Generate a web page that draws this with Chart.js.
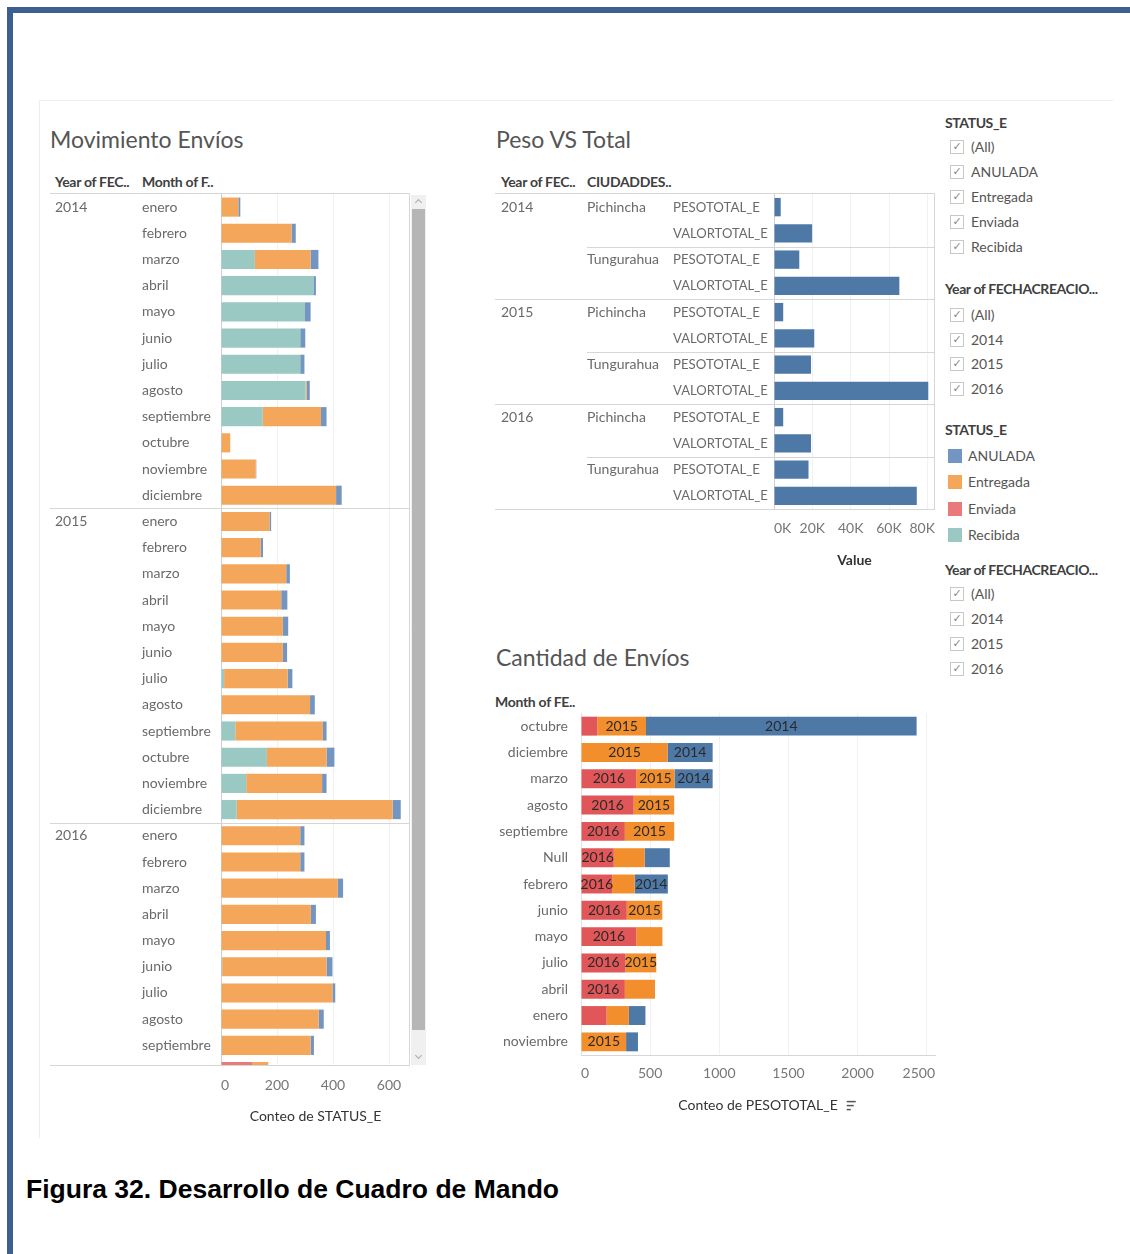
<!DOCTYPE html>
<html>
<head>
<meta charset="utf-8">
<script src="https://cdn.jsdelivr.net/npm/chart.js@4.4.1/dist/chart.umd.min.js"></script>
<style>
body { margin:0; width:1130px; height:1254px; position:relative; background:#fff; font-family:Lato, "Open Sans", sans-serif; overflow:hidden; }
.abs { position:absolute; white-space:nowrap; }
.frame { position:absolute; background:#3b5f8e; }
.pane-line { position:absolute; background:#ededed; }
.sheet-title { font-size:23px; line-height:30px; color:#555; }
.hdr { font-size:14px; line-height:18px; font-weight:bold; color:#404040; letter-spacing:-0.3px; }
.lg { font-size:14px; line-height:18px; color:#555; }
.lg-hdr { font-size:14px; line-height:18px; font-weight:bold; color:#404040; letter-spacing:-0.4px; }
.chk { position:absolute; width:12px; height:12px; border:1px solid #c8c8c8; font:11px "DejaVu Sans"; color:#888; line-height:12px; text-align:center; }
.sw { position:absolute; width:14px; height:14px; }
canvas { position:absolute; }
.caption { font-family:"Liberation Sans", Arial, sans-serif; font-weight:bold; font-size:26.5px; line-height:30px; color:#000; }
</style>
</head>
<body>
<div class="frame" style="left:7px;top:7px;width:1123px;height:6px"></div>
<div class="frame" style="left:7px;top:7px;width:6px;height:1247px"></div>
<div class="pane-line" style="left:40px;top:100px;width:1073px;height:1px"></div>
<div class="pane-line" style="left:39px;top:100px;width:1px;height:1038px"></div>

<div class="abs sheet-title" style="left:50px;top:124px">Movimiento Envíos</div>
<div class="abs sheet-title" style="left:496px;top:124px">Peso VS Total</div>
<div class="abs sheet-title" style="left:496px;top:642px">Cantidad de Envíos</div>

<div class="abs hdr" style="left:55px;top:173px">Year of FEC..</div>
<div class="abs hdr" style="left:142px;top:173px">Month of F..</div>
<div class="abs hdr" style="left:501px;top:173px">Year of FEC..</div>
<div class="abs hdr" style="left:587px;top:173px">CIUDADDES..</div>
<div class="abs hdr" style="left:495px;top:693px">Month of FE..</div>

<!-- scrollbar of the left view -->
<div class="abs" style="left:411px;top:195px;width:15px;height:870px;background:#f0f0f0"></div>
<div class="abs" style="left:412px;top:209px;width:13px;height:821px;background:#b6b6b6"></div>
<div class="abs" style="left:416px;top:200px;width:4px;height:4px;border-left:1px solid #aaa;border-top:1px solid #aaa;transform:rotate(45deg)"></div>
<div class="abs" style="left:416px;top:1053px;width:4px;height:4px;border-right:1px solid #aaa;border-bottom:1px solid #aaa;transform:rotate(45deg)"></div>

<canvas id="movimiento" width="362" height="965" style="left:50px;top:170px"></canvas>
<canvas id="peso" width="442" height="410" style="left:495px;top:170px"></canvas>
<canvas id="cantidad" width="447" height="413" style="left:490px;top:712px"></canvas>

<div id="legend"></div>

<div class="abs caption" style="left:26px;top:1174px">Figura 32. Desarrollo de Cuadro de Mando</div>

<script>
// ---- Movimiento Envíos: conteo de STATUS_E por año y mes ----
const meses = ['enero','febrero','marzo','abril','mayo','junio','julio','agosto','septiembre','octubre','noviembre','diciembre'];
const movYears = ['2014', '2015', '2016'];

const enviada2014   = [0, 0, 0, 0, 0, 0, 0, 0, 0, 0, 0, 0];
const recibida2014  = [0, 0, 121, 330, 300, 283, 283, 302, 149, 0, 0, 0];
const entregada2014 = [62, 252, 199, 0, 0, 0, 0, 4, 208, 33, 124, 411];
const anulada2014   = [7, 15, 28, 9, 20, 18, 15, 11, 20, 0, 2, 20];

const enviada2015   = [0, 0, 0, 0, 0, 0, 0, 0, 0, 0, 0, 0];
const recibida2015  = [0, 0, 0, 0, 0, 0, 11, 3, 51, 164, 90, 56];
const entregada2015 = [173, 142, 233, 215, 221, 221, 227, 315, 313, 213, 271, 557];
const anulada2015   = [6, 8, 13, 22, 19, 15, 17, 17, 13, 28, 16, 29];

// 2016 runs until octubre
const enviada2016   = [0, 0, 0, 0, 0, 0, 0, 0, 0, 111];
const recibida2016  = [0, 2, 0, 0, 0, 4, 0, 0, 3, 0];
const entregada2016 = [283, 281, 417, 321, 375, 373, 398, 349, 317, 58];
const anulada2016   = [15, 15, 19, 18, 14, 21, 10, 18, 12, 0];

// ---- Peso VS Total ----
const pesoYears = ['2014', '2015', '2016'];
const ciudades = ['Pichincha', 'Tungurahua'];
const medidas = ['PESOTOTAL_E', 'VALORTOTAL_E'];
const pesoPichincha  = [3500, 4800, 4800];
const valorPichincha = [19900, 21000, 19300];
const pesoTungurahua  = [13200, 19300, 18000];
const valorTungurahua = [65400, 80500, 74500];

// ---- Cantidad de Envíos: conteo de PESOTOTAL_E por mes, apilado por año ----
const cantMonths = ['octubre','diciembre','marzo','agosto','septiembre','Null','febrero','junio','mayo','julio','abril','enero','noviembre'];
const cant2016 = [118, 0, 400, 381, 317, 237, 225, 331, 400, 321, 317, 185, 0];
const cant2015 = [352, 626, 276, 293, 357, 223, 163, 257, 189, 223, 218, 161, 326];
const cant2014 = [1957, 326, 276, 0, 0, 182, 240, 0, 0, 0, 0, 120, 86];
const show2016 = [false, false, true, true, true, true, true, true, true, true, true, false, false];
const show2015 = [true, true, true, true, true, false, false, true, false, true, false, false, true];
const show2014 = [true, true, true, false, false, false, true, false, false, false, false, false, false];

// legend / filters
const statusNames = ['ANULADA', 'Entregada', 'Enviada', 'Recibida'];
const filterYears = ['2014', '2015', '2016'];

const statusColors = { ANULADA: '#7296c1', Entregada: '#f4a65b', Enviada: '#e9797b', Recibida: '#99c9c2' };
const yearColors = { '2016': '#e15759', '2015': '#f28e2b', '2014': '#4e79a7' };

Chart.defaults.font.family = 'Lato, "Open Sans", sans-serif';
Chart.defaults.font.size = 14;

// rows of the left view
const movRows = [];
const movSeries = {
  '2014': [enviada2014, recibida2014, entregada2014, anulada2014],
  '2015': [enviada2015, recibida2015, entregada2015, anulada2015],
  '2016': [enviada2016, recibida2016, entregada2016, anulada2016]
};
movYears.forEach(year => {
  const [env, rec, ent, anu] = movSeries[year];
  env.forEach((_, m) => {
    movRows.push({ year, month: meses[m], first: m === 0, enviada: env[m], recibida: rec[m], entregada: ent[m], anulada: anu[m] });
  });
});

function hLine(ctx, x0, x1, py) {
  py = Math.round(py) + 0.5;
  ctx.beginPath(); ctx.moveTo(x0, py); ctx.lineTo(x1, py); ctx.stroke();
}
function vLine(ctx, px, y0, y1) {
  px = Math.round(px) - 0.5;
  ctx.beginPath(); ctx.moveTo(px, y0); ctx.lineTo(px, y1); ctx.stroke();
}
// ticks every `step` from 0, without the axis max
function stepTicks(step) {
  return scale => {
    const ticks = [];
    for (let v = 0; v <= scale.max; v += step) ticks.push({ value: v });
    scale.ticks = ticks;
  };
}
// x tick labels centred on their tick but kept inside the plot area
function clampTicks(fmt, gap) {
  return {
    id: 'clampTicks',
    afterDraw(chart) {
      const { ctx, chartArea: a, scales: { x } } = chart;
      ctx.save();
      ctx.font = '14px Lato';
      ctx.fillStyle = '#777';
      ctx.textBaseline = 'middle';
      x.ticks.forEach(t => {
        const text = fmt(t.value);
        const w = ctx.measureText(text).width;
        let left = x.getPixelForValue(t.value) - w / 2;
        left = Math.min(Math.max(left, a.left), a.right - w);
        ctx.fillText(text, left, a.bottom + gap);
      });
      ctx.restore();
    }
  };
}

const movHeaders = {
  id: 'movHeaders',
  afterDraw(chart) {
    const { ctx, chartArea: a, scales: { y } } = chart;
    ctx.save();
    ctx.font = '14px Lato';
    ctx.fillStyle = '#6a6a6a';
    ctx.textBaseline = 'middle';
    movRows.forEach((r, i) => {
      const py = y.getPixelForValue(i);
      if (py > a.bottom) return;
      ctx.fillText(r.month, 92, py);
      if (r.first) ctx.fillText(r.year, 5, py);
    });
    ctx.strokeStyle = '#d6d6d6';
    ctx.lineWidth = 1;
    hLine(ctx, 0, a.right, a.top - 1);
    movRows.forEach((r, i) => {
      if (r.first && i > 0) hLine(ctx, 0, a.right, y.getPixelForValue(i - 0.5));
    });
    hLine(ctx, 0, a.right, a.bottom);
    vLine(ctx, a.right, a.top, a.bottom);
    ctx.restore();
  }
};

function movDataset(label, key) {
  return {
    label,
    data: movRows.map((r, i) => ({ x: r[key], y: i })),
    backgroundColor: statusColors[label],
    categoryPercentage: 1,
    barPercentage: 0.73
  };
}

new Chart(document.getElementById('movimiento'), {
  type: 'bar',
  data: {
    datasets: [
      movDataset('Enviada', 'enviada'),
      movDataset('Recibida', 'recibida'),
      movDataset('Entregada', 'entregada'),
      movDataset('ANULADA', 'anulada')
    ]
  },
  options: {
    indexAxis: 'y',
    responsive: false,
    animation: false,
    layout: { autoPadding: false, padding: { left: 171, right: 2, top: 24, bottom: 0 } },
    plugins: { legend: { display: false }, tooltip: { enabled: false } },
    scales: {
      x: {
        type: 'linear', stacked: true, min: 0, max: 675,
        afterBuildTicks: stepTicks(200),
        ticks: { display: false },
        grid: { drawTicks: false, color: c => c.tick.value === 0 ? '#cfcfcf' : '#f1f1f1' },
        border: { display: false },
        title: { display: true, text: 'Conteo de STATUS_E', color: '#333', padding: { top: 0, bottom: 10 } },
        afterFit: s => { s.height = 70; }
      },
      y: {
        type: 'linear', stacked: true, reverse: true, offset: false, min: -0.5, max: 32.75,
        display: false, ticks: { stepSize: 1, includeBounds: false }
      }
    }
  },
  plugins: [movHeaders, clampTicks(v => String(v), 20)]
});

// ---- Peso VS Total ----
const pesoRows = [];
pesoYears.forEach((year, yi) => {
  ciudades.forEach((city, ci) => {
    const peso = ci === 0 ? pesoPichincha[yi] : pesoTungurahua[yi];
    const valor = ci === 0 ? valorPichincha[yi] : valorTungurahua[yi];
    pesoRows.push({ year, city, medida: medidas[0], value: peso, firstYear: ci === 0, firstCity: true });
    pesoRows.push({ year, city, medida: medidas[1], value: valor, firstYear: false, firstCity: false });
  });
});

const pesoHeaders = {
  id: 'pesoHeaders',
  afterDraw(chart) {
    const { ctx, chartArea: a, scales: { y } } = chart;
    ctx.save();
    ctx.font = '14px Lato';
    ctx.fillStyle = '#6a6a6a';
    ctx.textBaseline = 'middle';
    pesoRows.forEach((r, i) => {
      const py = y.getPixelForValue(i);
      ctx.fillText(r.medida, 178, py, r.medida.length * 7.9);
      if (r.firstCity) ctx.fillText(r.city, 92, py);
      if (r.firstYear) ctx.fillText(r.year, 6, py);
    });
    ctx.strokeStyle = '#d6d6d6';
    ctx.lineWidth = 1;
    hLine(ctx, 0, a.right, a.top - 1);
    pesoRows.forEach((r, i) => {
      if (i === 0) return;
      if (r.firstYear) hLine(ctx, 0, a.right, y.getPixelForValue(i - 0.5));
      else if (r.firstCity) hLine(ctx, 92, a.right, y.getPixelForValue(i - 0.5));
    });
    hLine(ctx, 0, a.right, a.bottom);
    vLine(ctx, a.right, a.top, a.bottom);
    ctx.restore();
  }
};

new Chart(document.getElementById('peso'), {
  type: 'bar',
  data: {
    datasets: [{
      label: 'Value',
      data: pesoRows.map((r, i) => ({ x: r.value, y: i })),
      backgroundColor: '#4e79a7',
      categoryPercentage: 1,
      barPercentage: 0.7
    }]
  },
  options: {
    indexAxis: 'y',
    responsive: false,
    animation: false,
    layout: { autoPadding: false, padding: { left: 279, right: 2, top: 24, bottom: 0 } },
    plugins: { legend: { display: false }, tooltip: { enabled: false } },
    scales: {
      x: {
        type: 'linear', min: 0, max: 84000,
        afterBuildTicks: stepTicks(20000),
        ticks: { display: false },
        grid: { drawTicks: false, color: c => c.tick.value === 0 ? '#cfcfcf' : '#f1f1f1' },
        border: { display: false },
        title: { display: true, text: 'Value', color: '#333', font: { weight: 'bold' }, padding: { top: 0, bottom: 11 } },
        afterFit: s => { s.height = 71; }
      },
      y: {
        type: 'linear', reverse: true, offset: false, min: -0.5, max: 11.5,
        display: false, ticks: { stepSize: 1, includeBounds: false }
      }
    }
  },
  plugins: [pesoHeaders, clampTicks(v => (v / 1000) + 'K', 19)]
});

// ---- Cantidad de Envíos ----
const yearLabels = {
  id: 'yearLabels',
  afterDatasetsDraw(chart) {
    const { ctx } = chart;
    ctx.save();
    ctx.font = '14px Lato';
    ctx.fillStyle = '#2a2a2a';
    ctx.textAlign = 'center';
    ctx.textBaseline = 'middle';
    chart.data.datasets.forEach((ds, d) => {
      chart.getDatasetMeta(d).data.forEach((bar, i) => {
        if (ds.showYear[i]) ctx.fillText(ds.label, (bar.x + bar.base) / 2, bar.y);
      });
    });
    ctx.restore();
  },
  afterDraw(chart) {
    // sort icon next to the axis title
    const { ctx, chartArea: a, scales: { x } } = chart;
    const title = x.options.title.text;
    ctx.save();
    ctx.font = '14px Lato';
    const w = ctx.measureText(title).width;
    const cx = (a.left + a.right) / 2 + w / 2 + 9;
    const cy = x.bottom - 11 - 8.4;
    ctx.strokeStyle = '#555';
    ctx.lineWidth = 1.5;
    [[9, -4], [7, 0], [4, 4]].forEach(([len, dy]) => {
      ctx.beginPath(); ctx.moveTo(cx, cy + dy); ctx.lineTo(cx + len, cy + dy); ctx.stroke();
    });
    ctx.restore();
  }
};

function cantDataset(year, values, flags) {
  return {
    label: year,
    data: values,
    showYear: flags,
    backgroundColor: yearColors[year],
    categoryPercentage: 1,
    barPercentage: 0.72
  };
}

new Chart(document.getElementById('cantidad'), {
  type: 'bar',
  data: {
    labels: cantMonths,
    datasets: [
      cantDataset('2016', cant2016, show2016),
      cantDataset('2015', cant2015, show2015),
      cantDataset('2014', cant2014, show2014)
    ]
  },
  options: {
    indexAxis: 'y',
    responsive: false,
    animation: false,
    layout: { autoPadding: false, padding: { left: 0, right: 2, top: 1, bottom: 0 } },
    plugins: { legend: { display: false }, tooltip: { enabled: false } },
    scales: {
      x: {
        type: 'linear', stacked: true, min: 0, max: 2560,
        afterBuildTicks: stepTicks(500),
        ticks: { display: false },
        grid: { drawTicks: false, color: c => c.tick.value === 0 ? '#e2e2e2' : '#f1f1f1' },
        border: { display: true, color: '#d6d6d6' },
        title: { display: true, text: 'Conteo de PESOTOTAL_E', color: '#333', padding: { top: 0, bottom: 11 } },
        afterFit: s => { s.height = 70; }
      },
      y: {
        type: 'category', stacked: true,
        grid: { display: false }, border: { display: false },
        ticks: { color: '#6a6a6a', padding: 5, autoSkip: false },
        afterFit: s => { s.width = 91; s.paddingTop = 0; s.paddingBottom = 0; }
      }
    }
  },
  plugins: [yearLabels, clampTicks(v => String(v), 18)]
});

// ---- filters and colour legend ----
const legend = document.getElementById('legend');
function addText(cls, text, left, center) {
  const el = document.createElement('div');
  el.className = 'abs ' + cls;
  el.textContent = text;
  el.style.left = left + 'px';
  el.style.top = (center - 9) + 'px';
  legend.appendChild(el);
}
function addCheck(text, center) {
  const box = document.createElement('div');
  box.className = 'chk';
  box.textContent = '✓';
  box.style.left = '950px';
  box.style.top = (center - 7) + 'px';
  legend.appendChild(box);
  addText('lg', text, 971, center);
}

addText('lg-hdr', 'STATUS_E', 945, 123);
['(All)'].concat(statusNames).forEach((s, i) => addCheck(s, 147 + i * 25));

addText('lg-hdr', 'Year of FECHACREACIO...', 945, 289);
['(All)'].concat(filterYears).forEach((s, i) => addCheck(s, 315 + i * 24.5));

addText('lg-hdr', 'STATUS_E', 945, 430);
statusNames.forEach((s, i) => {
  const c = 456 + i * 26.3;
  const sw = document.createElement('div');
  sw.className = 'sw';
  sw.style.left = '948px';
  sw.style.top = (c - 7) + 'px';
  sw.style.background = statusColors[s];
  legend.appendChild(sw);
  addText('lg', s, 968, c);
});

addText('lg-hdr', 'Year of FECHACREACIO...', 945, 570);
['(All)'].concat(filterYears).forEach((s, i) => addCheck(s, 594 + i * 25));
</script>
</body>
</html>
